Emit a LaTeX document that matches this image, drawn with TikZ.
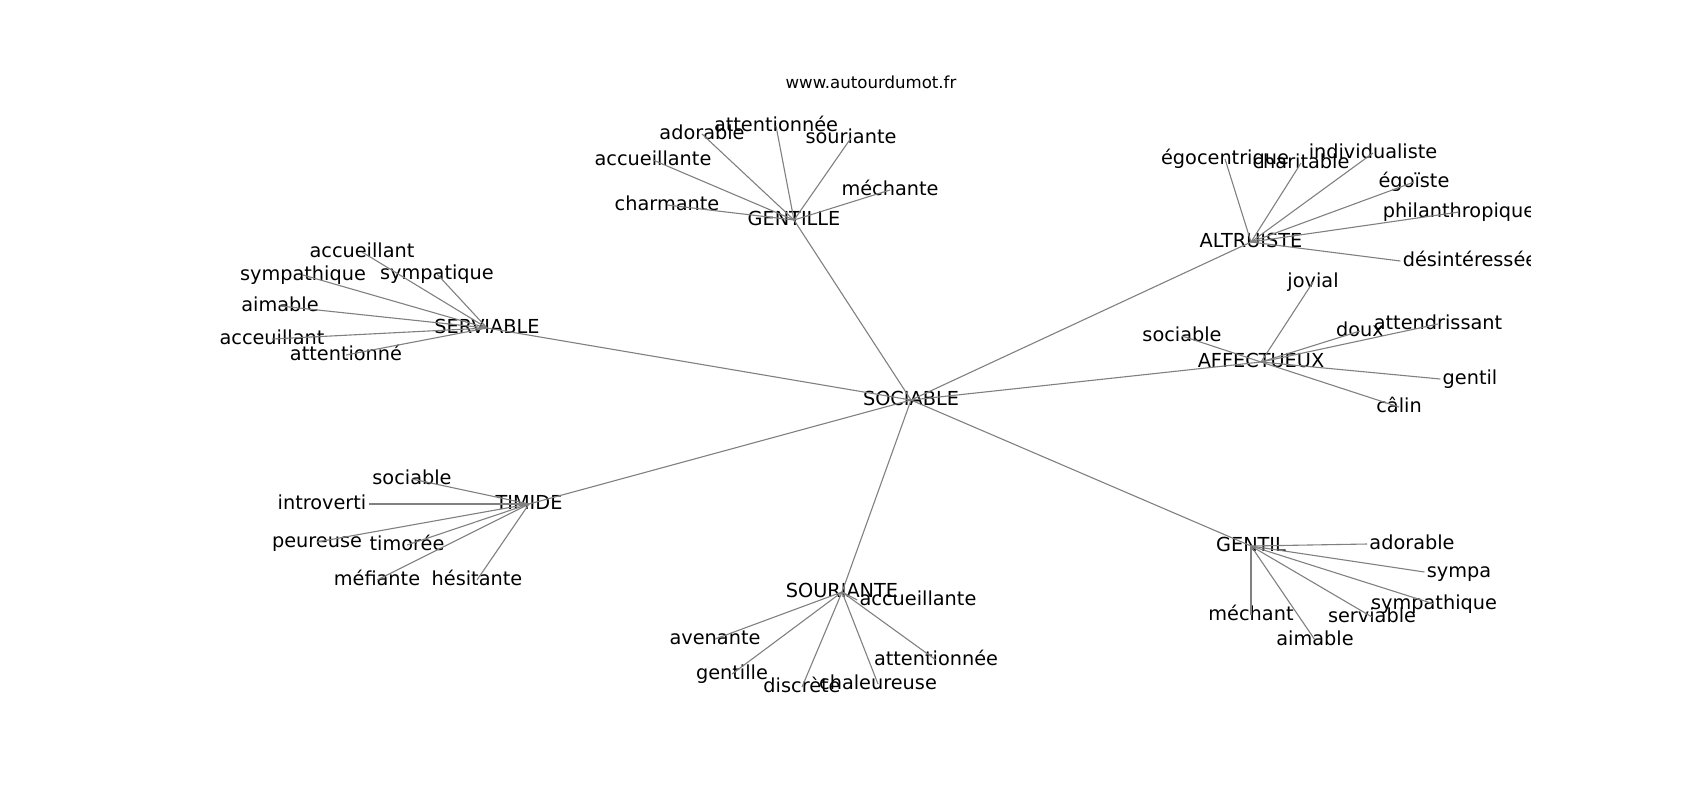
\documentclass[tikz,border=0pt]{standalone}
\usepackage{fontspec}
\setmainfont{DejaVu Sans}
\usetikzlibrary{shapes,arrows}

\begin{document}
\begin{tikzpicture}[x=0.5pt, y=-0.5pt,
    word_hub/.style ={rectangle, draw=none, fill=none, inner sep=1pt, yshift=-1pt,
      font=\fontsize{9.65}{11}\selectfont, text height=7.35pt, text depth=2.3pt},
    word_leaf/.style ={word_hub},
    word_title/.style ={rectangle, draw=none, fill=none, inner sep=0pt,
      font=\fontsize{8.3}{10}\selectfont},
    line/.style ={draw, color=black!50, line width=0.55pt}]
  \useasboundingbox (0,0) rectangle (1700,800);
  \node [word_title] (site) at (871,82) {www.autourdumot.fr};
  \begin{scope}
    \clip (212.5,96) rectangle (1530,712);
    % the words round the centre
    \node [word_hub] (sociable) at (911,398) {SOCIABLE};
    \node [word_hub] (gentille) at (794,218) {GENTILLE};
    \node [word_hub] (altruiste) at (1251,240) {ALTRUISTE};
    \node [word_hub] (affectueux) at (1261,360) {AFFECTUEUX};
    \node [word_hub] (serviable) at (487,326) {SERVIABLE};
    \node [word_hub] (timide) at (529,502) {TIMIDE};
    \node [word_hub] (souriante) at (842,590) {SOURIANTE};
    \node [word_hub] (gentil) at (1251,544) {GENTIL};
    % GENTILLE
    \node [word_leaf] (gentille_adorable) at (702,132) {adorable};
    \node [word_leaf] (gentille_attentionnee) at (776,124) {attentionnée};
    \node [word_leaf] (gentille_souriante) at (851,136) {souriante};
    \node [word_leaf] (gentille_accueillante) at (653,158) {accueillante};
    \node [word_leaf] (gentille_charmante) at (667,203) {charmante};
    \node [word_leaf] (gentille_mechante) at (890,188) {méchante};
    % ALTRUISTE
    \node [word_leaf] (altruiste_egocentrique) at (1225,157) {égocentrique};
    \node [word_leaf] (altruiste_charitable) at (1301,161) {charitable};
    \node [word_leaf] (altruiste_individualiste) at (1373,151) {individualiste};
    \node [word_leaf] (altruiste_egoiste) at (1414,180) {égoïste};
    \node [word_leaf] (altruiste_philanthropique) at (1459,210) {philanthropique};
    \node [word_leaf] (altruiste_desinteressee) at (1470,259) {désintéressée};
    % AFFECTUEUX
    \node [word_leaf] (affectueux_jovial) at (1313,280) {jovial};
    \node [word_leaf] (affectueux_sociable) at (1182,334) {sociable};
    \node [word_leaf] (affectueux_doux) at (1360,329) {doux};
    \node [word_leaf] (affectueux_attendrissant) at (1438,322) {attendrissant};
    \node [word_leaf] (affectueux_gentil) at (1470,377) {gentil};
    \node [word_leaf] (affectueux_calin) at (1399,405) {câlin};
    % SERVIABLE
    \node [word_leaf] (serviable_accueillant) at (362,250) {accueillant};
    \node [word_leaf] (serviable_sympatique) at (437,272) {sympatique};
    \node [word_leaf] (serviable_sympathique) at (303,273) {sympathique};
    \node [word_leaf] (serviable_aimable) at (280,304) {aimable};
    \node [word_leaf] (serviable_acceuillant) at (272,337) {acceuillant};
    \node [word_leaf] (serviable_attentionne) at (346,353) {attentionné};
    % TIMIDE
    \node [word_leaf] (timide_sociable) at (412,477) {sociable};
    \node [word_leaf] (timide_introverti) at (322,502) {introverti};
    \node [word_leaf] (timide_peureuse) at (317,540) {peureuse};
    \node [word_leaf] (timide_timoree) at (407,543) {timorée};
    \node [word_leaf] (timide_mefiante) at (377,578) {méfiante};
    \node [word_leaf] (timide_hesitante) at (477,578) {hésitante};
    % SOURIANTE
    \node [word_leaf] (souriante_accueillante) at (918,598) {accueillante};
    \node [word_leaf] (souriante_avenante) at (715,637) {avenante};
    \node [word_leaf] (souriante_gentille) at (732,672) {gentille};
    \node [word_leaf] (souriante_discrete) at (802,685) {discrète};
    \node [word_leaf] (souriante_chaleureuse) at (878,682) {chaleureuse};
    \node [word_leaf] (souriante_attentionnee) at (936,658) {attentionnée};
    % GENTIL
    \node [word_leaf] (gentil_adorable) at (1412,542) {adorable};
    \node [word_leaf] (gentil_sympa) at (1459,570) {sympa};
    \node [word_leaf] (gentil_sympathique) at (1434,602) {sympathique};
    \node [word_leaf] (gentil_serviable) at (1372,615) {serviable};
    \node [word_leaf] (gentil_aimable) at (1315,638) {aimable};
    \node [word_leaf] (gentil_mechant) at (1251,613) {méchant};
    % connecting the words with paths
    \begin{scope}[every path/.style=line]
      % from the centre
      \path (sociable.center) -- (gentille.center);
      \path (sociable.center) -- (altruiste.center);
      \path (sociable.center) -- (affectueux.center);
      \path (sociable.center) -- (serviable.center);
      \path (sociable.center) -- (timide.center);
      \path (sociable.center) -- (souriante.center);
      \path (sociable.center) -- (gentil.center);
      % GENTILLE
      \path (gentille.center) -- (gentille_adorable.center);
      \path (gentille.center) -- (gentille_attentionnee.center);
      \path (gentille.center) -- (gentille_souriante.center);
      \path (gentille.center) -- (gentille_accueillante.center);
      \path (gentille.center) -- (gentille_charmante.center);
      \path (gentille.center) -- (gentille_mechante.center);
      % ALTRUISTE
      \path (altruiste.center) -- (altruiste_egocentrique.center);
      \path (altruiste.center) -- (altruiste_charitable.center);
      \path (altruiste.center) -- (altruiste_individualiste.center);
      \path (altruiste.center) -- (altruiste_egoiste.center);
      \path (altruiste.center) -- (altruiste_philanthropique.center);
      \path (altruiste.center) -- (altruiste_desinteressee.west);
      % AFFECTUEUX
      \path (affectueux.center) -- (affectueux_jovial.center);
      \path (affectueux.center) -- (affectueux_sociable.center);
      \path (affectueux.center) -- (affectueux_doux.center);
      \path (affectueux.center) -- (affectueux_attendrissant.center);
      \path (affectueux.center) -- (affectueux_gentil.west);
      \path (affectueux.center) -- (affectueux_calin.center);
      % SERVIABLE
      \path (serviable.center) -- (serviable_accueillant.center);
      \path (serviable.center) -- (serviable_sympatique.center);
      \path (serviable.center) -- (serviable_sympathique.center);
      \path (serviable.center) -- (serviable_aimable.center);
      \path (serviable.center) -- (serviable_acceuillant.center);
      \path (serviable.center) -- (serviable_attentionne.center);
      % TIMIDE
      \path (timide.center) -- (timide_sociable.center);
      \path (timide.center) -- (timide_introverti.east);
      \path (timide.center) -- (timide_peureuse.center);
      \path (timide.center) -- (timide_timoree.center);
      \path (timide.center) -- (timide_mefiante.center);
      \path (timide.center) -- (timide_hesitante.center);
      % SOURIANTE
      \path (souriante.center) -- (souriante_accueillante.west);
      \path (souriante.center) -- (souriante_avenante.center);
      \path (souriante.center) -- (souriante_gentille.center);
      \path (souriante.center) -- (souriante_discrete.center);
      \path (souriante.center) -- (souriante_chaleureuse.center);
      \path (souriante.center) -- (souriante_attentionnee.center);
      % GENTIL
      \path (gentil.center) -- (gentil_adorable.west);
      \path (gentil.center) -- (gentil_sympa.west);
      \path (gentil.center) -- (gentil_sympathique.center);
      \path (gentil.center) -- (gentil_serviable.center);
      \path (gentil.center) -- (gentil_aimable.center);
      \path (gentil.center) -- (gentil_mechant.center);
    \end{scope}
  \end{scope}
\end{tikzpicture}
\end{document}
